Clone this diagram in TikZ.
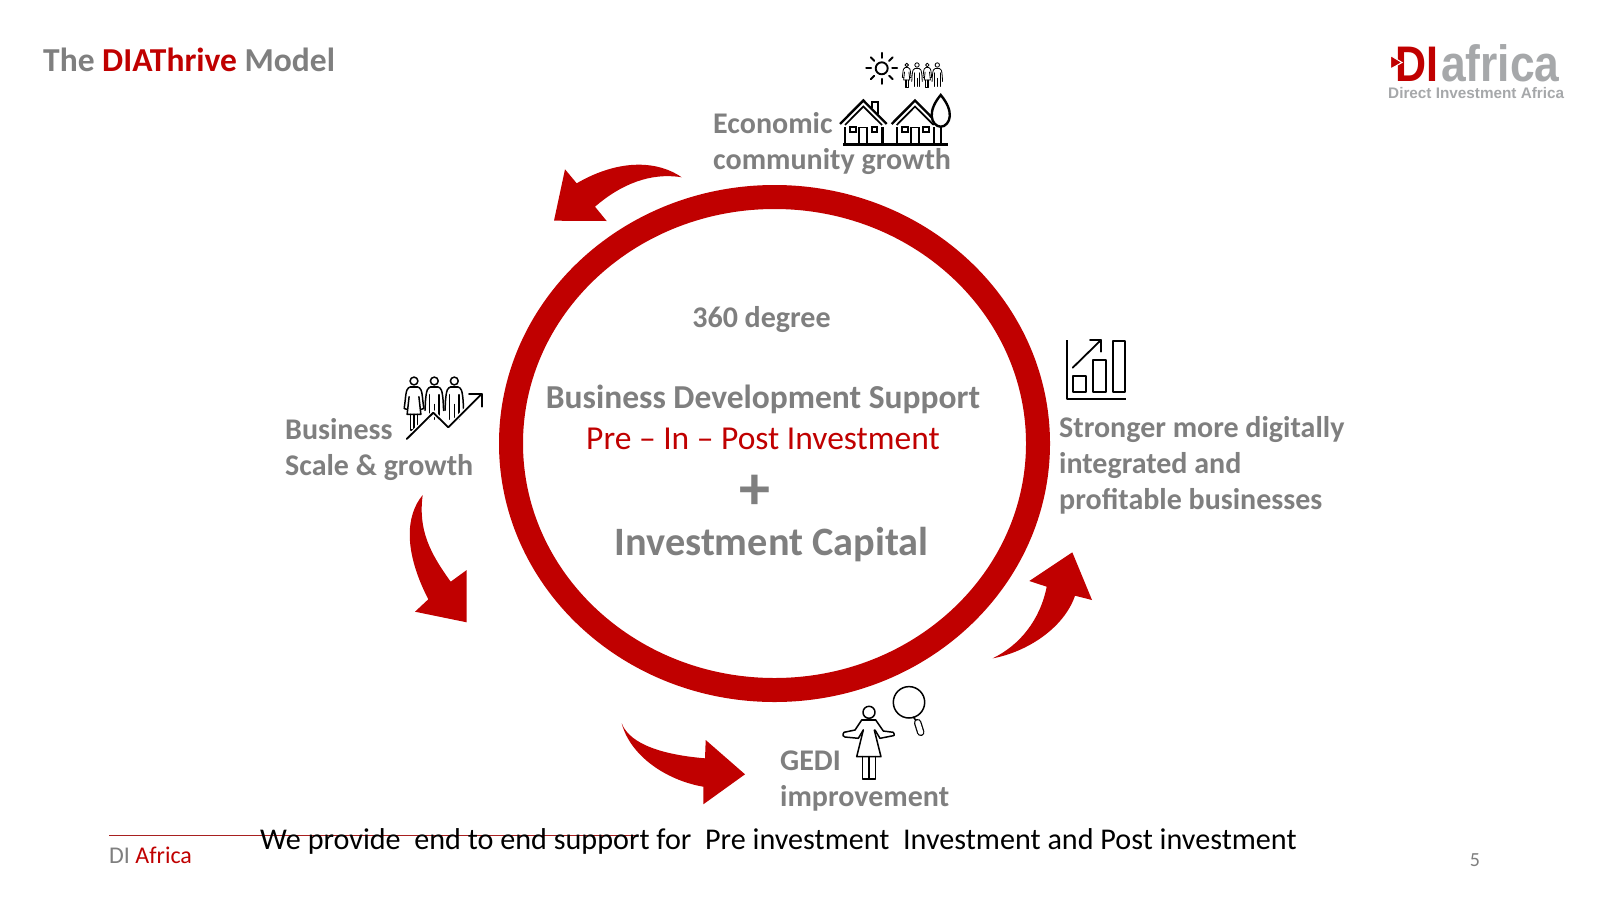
\documentclass[tikz,border=0pt]{standalone}
\usepackage{fontspec}
\setmainfont{Carlito}
\newfontfamily\logofont{Liberation Sans}
\definecolor{direct}{HTML}{C00000}
\definecolor{digrey}{HTML}{7F7F7F}
\definecolor{logogrey}{HTML}{A6A8AA}
\definecolor{footline}{HTML}{A82020}
\def\iconw{1.5}
\tikzset{
  lab/.style={font=\fontsize{#1}{#1}\selectfont\bfseries,text=digrey,inner sep=0pt,anchor=base west},
  cen/.style={font=\fontsize{#1}{#1}\selectfont\bfseries,text=digrey,inner sep=0pt,anchor=base},
  redfill/.style={fill=direct,draw=none},
  icon/.style={draw=black,line width=\iconw,line join=round,line cap=round,fill=none},
  iconthick/.style={draw=black,line width=2.4,line join=miter,fill=none}
}
\newcommand{\manicon}[3]{% x, y of head, scale
  \begin{scope}[shift={(#1,#2)},scale=#3,icon]
    \draw (0,0) circle (4);
    \draw (-3.5,6) .. controls (-7,7) and (-8,9) .. (-9,20) -- (-9.5,30) (3.5,6) .. controls (7,7) and (8,9) .. (9,20) -- (9.5,30);
    \draw (-3.5,6) -- (3.5,6);
    \draw (-5,14) -- (-5,39) (5,14) -- (5,39) (0,24) -- (0,39);
  \end{scope}}
\newcommand{\womanicon}[3]{%
  \begin{scope}[shift={(#1,#2)},scale=#3,icon]
    \draw (0,0) circle (4);
    \draw (-3.5,6) .. controls (-7,7) and (-8,9) .. (-9,20) -- (-10,28) -- (-7,29);
    \draw (3.5,6) .. controls (7,7) and (8,9) .. (9,20) -- (10,28) -- (7,29);
    \draw (-3.5,6) -- (3.5,6);
    \draw (-5,16) -- (-7,34) -- (7,34) -- (5,16);
    \draw (-3.5,34) -- (-3.5,50) -- (3.5,50) -- (3.5,34) (0,34) -- (0,50);
  \end{scope}}
\newcommand{\houseicon}[2]{% x shift, chimney
  \begin{scope}[shift={(#1,0)}]
    \draw[iconthick] (840,124) -- (863.3,100.5) -- (886.7,124);
    \draw[iconthick,line width=1.7] (845,125) -- (863.3,106.5) -- (882,125);
    \draw[iconthick] (845,127) -- (845,144.3) (882.3,127) -- (882.3,144.3);
    \draw[iconthick,line width=1.9] (850,127.3) rectangle (856,132) (871.7,127.3) rectangle (877.3,132);
    \draw[iconthick,line width=1.9] (859.3,144.3) -- (859.3,127.5) -- (867.3,127.5) -- (867.3,144.3);
    #2
  \end{scope}}
\begin{document}
\begin{tikzpicture}[x=1pt,y=-1pt]
\useasboundingbox (0,0) rectangle (1600,900);
\fill[white] (0,0) rectangle (1600,900);

% title
\node[lab=33.5] (title) at (43,71) {The \textcolor{direct}{DIAThrive} Model};

% logo
\node[inner sep=0,anchor=base west,font=\fontsize{50}{50}\selectfont\logofont\bfseries,text=direct,xscale=0.86] (logoDI) at (1395,81) {DI};
\node[inner sep=0,anchor=base west,font=\fontsize{51}{51}\selectfont\logofont\bfseries,text=logogrey,xscale=0.87] (logoA) at (1441,81) {africa};
\node[inner sep=0,anchor=base west,font=\fontsize{15.3}{15.3}\selectfont\logofont\bfseries,text=logogrey] (logoB) at (1388,98) {Direct Investment Africa};
\fill[direct,draw=white,line width=1] (1390.5,55.5) -- (1402,62.5) -- (1390.5,69) -- cycle;

% ring
\draw[direct,line width=24] (774.5,443.5) ellipse [x radius=263.5,y radius=246.5];

% arrows
\path[redfill] (681.7,177.3) .. controls (660,162) and (622,157) .. (576.7,183.3)
  -- (565,169.3) -- (554,220.7) -- (606.7,221) -- (595,206.7)
  .. controls (620,185) and (650,172) .. cycle;
\path[redfill] (422.7,495) .. controls (406,515) and (403,550) .. (428.3,599.3)
  -- (415,611.7) -- (466.7,622.3) -- (466.7,570) -- (450.7,581.7)
  .. controls (430,553) and (418,530) .. cycle;
\path[redfill] (621.7,723.3) .. controls (630,755) and (665,780) .. (703.3,786.7)
  -- (703.3,804.3) -- (745,774.3) -- (705.7,740) -- (705,758.3)
  .. controls (665,755) and (630,745) .. cycle;
\path[redfill] (992.7,658.3) .. controls (1027,652) and (1064,628) .. (1075,595.7)
  -- (1092,600) -- (1072.3,552.3) -- (1029.3,581) -- (1046.7,586.7)
  .. controls (1040,620) and (1020,645) .. cycle;

% centre text
\node[cen=30] (deg) at (761.5,327.5) {360 degree};
\node[cen=33.5] (bds) at (763,408) {Business Development Support};
\node[cen=33.5,font=\fontsize{33.5}{33.5}\selectfont,text=direct] (pre) at (763,449) {Pre – In – Post Investment};
\node[cen=62] (plus) at (754.5,509) {+};
\node[cen=40.3] (cap) at (771.5,555) {Investment Capital};

% outer labels
\node[lab=30] (eco1) at (713,133) {Economic};
\node[lab=30] (eco2) at (713,169.5) {community growth};
\node[lab=30] (str1) at (1059,437) {Stronger more digitally};
\node[lab=30] (str2) at (1059,473) {integrated and};
\node[lab=30] (str3) at (1059,509) {profitable businesses};
\node[lab=30] (bus1) at (285,439) {Business};
\node[lab=30] (bus2) at (285,475) {Scale \& growth};
\node[lab=30] (gedi1) at (780,770) {GEDI};
\node[lab=30] (gedi2) at (780,806) {improvement};

% footer
\draw[footline,line width=1] (109,835) -- (635,835);
\node[inner sep=0,anchor=base west,font=\fontsize{30.15}{30.15}\selectfont,text=black] (foot) at (260,849) {We provide\ \ end to end support for\ \ Pre investment\ \ Investment and Post investment};
\node[inner sep=0,anchor=base west,font=\fontsize{24}{24}\selectfont,text=digrey] (brand) at (109,863) {DI \textcolor{direct}{Africa}};
\node[inner sep=0,anchor=base,font=\fontsize{20}{20}\selectfont,text=digrey] (page) at (1475,866) {5};

% sun + people
\draw[icon,line width=1.9] (881.7,68.3) circle (6);
\foreach \a in {0,45,...,315}{\draw[icon,line width=1.9] (881.7,68.3) ++(\a:10.5) -- ++(\a:5);}
\begingroup
\def\iconw{0.8}
\womanicon{906.7}{65}{0.44}
\manicon{917}{65}{0.55}
\womanicon{927.3}{65}{0.44}
\manicon{937.3}{65}{0.55}
\endgroup

% houses
\draw[iconthick] (843.3,144.3) -- (947.7,144.3);
\houseicon{0}{\draw[iconthick,line width=1.9] (871.7,108) -- (871.7,102) -- (878.3,102) -- (878.3,114);}
\houseicon{51.7}{}
\draw[iconthick,fill=white] (940.7,95) .. controls (934,103) and (931.5,110) .. (931.7,116) .. controls (932,122) and (936,126.7) .. (940.7,126.7) .. controls (945.4,126.7) and (949.5,122) .. (949.8,116) .. controls (950,110) and (947.4,103) .. cycle;
\draw[iconthick] (940.7,126.7) -- (940.7,144.3);

% business icon
\womanicon{414}{381}{0.98}
\manicon{434.3}{381}{0.98}
\manicon{454.3}{381}{0.98}
\draw[white,line width=4.5] (406.7,439) -- (433.3,412.7) -- (448.3,427.3) -- (481.7,394);
\draw[icon,line width=1.8] (406.7,439) -- (433.3,412.7) -- (448.3,427.3) -- (481.7,394);
\draw[icon,line width=1.8] (469,394) -- (481.7,394) -- (481.7,406.7);

% chart icon
\draw[icon,line width=1.8,line cap=butt] (1066.7,340) -- (1066.7,399.3) -- (1126,399.3);
\draw[icon,line width=1.8] (1073.3,376) rectangle (1086,392.3);
\draw[icon,line width=1.8] (1093.3,360) rectangle (1105.7,392.3);
\draw[icon,line width=1.8] (1112.7,340.7) rectangle (1125.3,392.3);
\draw[icon,line width=1.8] (1072.7,367.7) -- (1101,340);
\draw[icon,line width=1.8] (1090,340) -- (1101,340) -- (1101,351.7);

% GEDI woman + magnifier
\begin{scope}[icon,line width=1.5]
  \draw (869,712.3) circle (6);
  \draw (861.7,720) -- (875.7,720);
  \draw (861.7,720) -- (855,730) -- (844,732.3) .. controls (842,735) and (843,737) .. (845,737) -- (858.3,738.3) -- (863.3,730);
  \draw (875.7,720) -- (883.3,731) -- (893.3,732.3) .. controls (895,735) and (894,736) .. (893.3,735.7) -- (880,738.3) -- (875,730);
  \draw (863.3,730) -- (856.7,756.7) -- (881,756.7) -- (874.3,730);
  \draw (862.3,756.7) -- (862.3,779) -- (875.7,779) -- (875.7,756.7) (869,756.7) -- (869,779);
  \draw (909,702.3) circle (15.7);
  \draw (913.3,717) -- (916,720.5);
\end{scope}
\draw[black,line width=7.5,line cap=round] (917.7,722.7) -- (920.7,732.3);
\draw[white,line width=5,line cap=round] (917.7,722.7) -- (920.7,732.3);
\end{tikzpicture}
\end{document}
